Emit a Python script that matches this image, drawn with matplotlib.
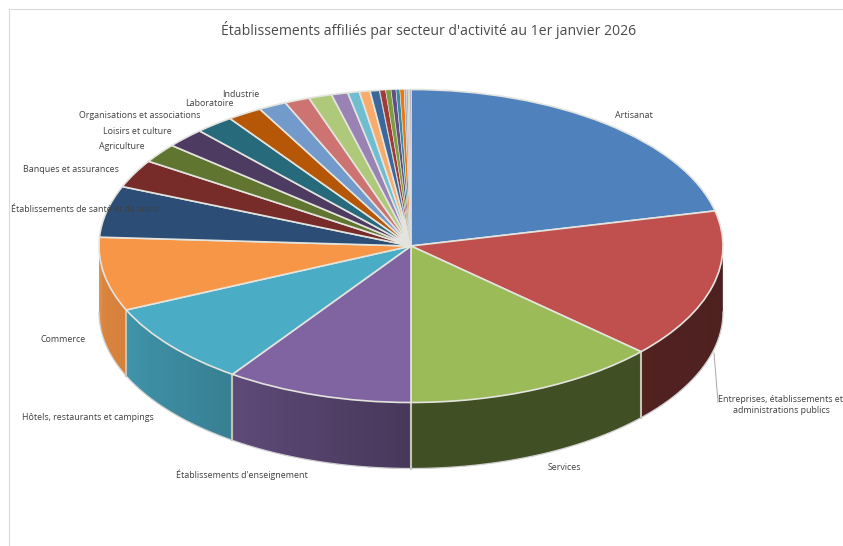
#!/usr/bin/env python
"""Camembert 3D : établissements affiliés par secteur d'activité."""

import numpy as np
import matplotlib
matplotlib.use("Agg")
import matplotlib.pyplot as plt

plt.rcParams["font.family"] = ["Open Sans", "DejaVu Sans"]

TITLE = "Établissements affiliés par secteur d'activité au 1er janvier 2026"

# parts (%), clockwise from the top
categories = [
    "Artisanat", "Entreprises, établissements et\nadministrations publics", "Services",
    "Établissements d'enseignement", "Hôtels, restaurants et campings", "Commerce",
    "Établissements de santé et de soins", "Banques et assurances", "Agriculture",
    "Loisirs et culture", "Organisations et associations", "Laboratoire", "Industrie",
    "", "", "", "", "", "", "", "", "", "", "", "", "", "", "", "",
]
values = [
    21.4, 15.4, 13.2, 9.7, 8.6, 7.6, 5.3, 2.9, 2.0, 2.05, 2.0, 1.8, 1.45,
    1.3, 1.2, 0.85, 0.6, 0.55, 0.5, 0.3, 0.28, 0.25, 0.2, 0.22, 0.12, 0.08,
    0.08, 0.07,
]
colors = [
    "#4F81BD", "#C0504D", "#9BBB59", "#8064A2", "#4BACC6", "#F79646",
    "#2C4D75", "#772C2A", "#5F7530", "#4D3B62", "#276A7C", "#B65708",
    "#729ACA", "#CD7371", "#AFC97A", "#9983B5", "#6FBDD1", "#F9AB6B",
    "#3A679C", "#9F3B38", "#7E9C40", "#664F83", "#358EA6", "#F3740B",
    "#95B3D7", "#D99694", "#C3D69B", "#B2A1C7",
]

# label centres in image pixels, same order as the named categories
label_px = [
    (634, 116), (781, 405), (564, 468), (242, 475), (88, 417), (63, 340),
    (85, 210), (71, 170), (122, 147), (137, 131), (140, 116), (209, 104), (241, 94),
]

W, H = 843, 546
CX, CY, RX, RY = 411, 246, 312, 156.5
DEPTH = 66 / RY
EDGE = "#e4e4de"


def rim(t):
    """Point of the unit circle, t in degrees clockwise from the top."""
    r = np.radians(t)
    return np.sin(r), np.cos(r)


def side_shade(t):
    # light comes from the left: the right of the wall is much darker
    return np.interp(t, [90, 132, 179.9, 180.1, 215, 246, 270],
                     [0.40, 0.42, 0.42, 0.56, 0.74, 0.86, 0.90])


def draw_side(ax, start, stop, color):
    t0, t1 = max(start, 90), min(stop, 270)
    if t1 <= t0:
        return
    base = np.array(matplotlib.colors.to_rgb(color))
    # each strip runs under the next one, so no seam shows between them
    for a in np.arange(t0, t1, 1.5):
        b = min(a + 2.2, t1)
        x, y = rim(np.linspace(a, b, 5))
        xs = np.r_[x, x[::-1]]
        ys = np.r_[y, y[::-1] - DEPTH]
        ax.fill(xs, ys, color=base * side_shade(a + 0.75), lw=0, zorder=1)


def main():
    fig = plt.figure(figsize=(W / 100, H / 100), dpi=100)
    ax = fig.add_axes([0, 0, 1, 1])

    edges = np.r_[0, np.cumsum(values)] / np.sum(values) * 360
    for start, stop, color in zip(edges[:-1], edges[1:], colors):
        draw_side(ax, start, stop, color)

    # outline of the wall, and light separators between the slices
    x, y = rim(np.linspace(90, 270, 200))
    ax.plot(x, y - DEPTH, color="#d0d0d0", lw=0.9, zorder=2)
    for t in edges[1:-1]:
        if 90 < t < 270:
            x, y = rim(t)
            ax.plot([x, x], [y, y - DEPTH], color="#c4c4b4", lw=1.5, zorder=2)

    wedges, _ = ax.pie(values, startangle=90, counterclock=False, colors=colors, radius=1)
    for w, v in zip(wedges, values):
        w.set_zorder(3)
        w.set_edgecolor(EDGE)
        w.set_linewidth(1.2 if v > 0.4 else 0.4)

    ax.set_aspect("auto")
    ax.set_xlim(-CX / RX, (W - CX) / RX)
    ax.set_ylim((CY - H) / RY, CY / RY)
    ax.axis("off")

    def fx(px):
        return px / W

    def fy(py):
        return 1 - py / H

    # chart frame
    fig.add_artist(plt.Line2D([fx(9), fx(9)], [fy(9), 0], color="#d9d9d9", lw=0.8))
    fig.add_artist(plt.Line2D([fx(9), 1], [fy(9), fy(9)], color="#d9d9d9", lw=0.8))

    fig.text(fx(429), fy(30), TITLE, ha="center", va="center", fontsize=10.05, color="#4a4a4a")

    named = [c for c in categories if c]
    for name, (px, py) in zip(named, label_px):
        fig.text(fx(px), fy(py), name, ha="center", va="center", fontsize=6.4,
                 color="#404040", linespacing=1.25, zorder=5)

    # leader line of the only label set away from its slice
    fig.add_artist(plt.Line2D([fx(714), fx(718)], [fy(353), fy(402)], color="#a6a6a6", lw=0.7))

    fig.savefig("out.png", dpi=100)
    plt.close(fig)


if __name__ == "__main__":
    main()
